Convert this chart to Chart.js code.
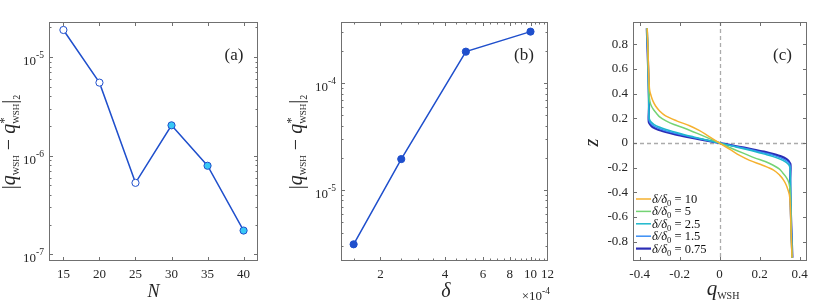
<!DOCTYPE html>
<html>
<head>
<meta charset="utf-8">
<script src="https://cdn.jsdelivr.net/npm/chart.js@4.4.0/dist/chart.umd.min.js"></script>
<style>
body { margin: 0; background: #fff; }
#wrap { position: relative; width: 830px; height: 302px; }
#wrap canvas { position: absolute; top: 0; }
</style>
</head>
<body>
<div id="wrap">
  <canvas id="ca" width="280" height="302" style="left:0px"></canvas>
  <canvas id="cb" width="280" height="302" style="left:280px"></canvas>
  <canvas id="cc" width="270" height="302" style="left:560px"></canvas>
</div>
<script>
// ---- data ----
// (a) error vs N
const nValues = [15, 20, 25, 30, 35, 40];
const errN = [1.88e-5, 5.5e-6, 5.3e-7, 2.03e-6, 7.9e-7, 1.74e-7];
const filledN = [false, false, false, true, true, true];
const nTicks = [15, 20, 25, 30, 35, 40];

// (b) error vs delta (units of 1e-4)
const deltaValues = [1.5, 2.5, 5, 10];
const errDelta = [3.1e-6, 1.95e-5, 1.98e-4, 3.05e-4];
const deltaTicks = [2, 4, 6, 8, 10, 12];

// (c) profiles q_WSH(z)
const ratioLabels = ['10', '5', '2.5', '1.5', '0.75'];
const z10 = [0.93, 0.7, 0.5, 0.42, 0.38, 0.34, 0.3, 0.26, 0.22, 0.18, 0.14, 0.1, 0.06, 0.03, 0,
  -0.03, -0.06, -0.1, -0.14, -0.18, -0.22, -0.26, -0.3, -0.34, -0.38, -0.42, -0.5, -0.7, -0.93];
const q10 = [-0.362, -0.357, -0.353, -0.349, -0.342, -0.333, -0.32, -0.3, -0.27, -0.215, -0.15, -0.1, -0.06, -0.03, 0,
  0.03, 0.06, 0.1, 0.15, 0.215, 0.27, 0.3, 0.32, 0.333, 0.342, 0.349, 0.353, 0.357, 0.362];
const z5 = [0.93, 0.6, 0.4, 0.34, 0.3, 0.27, 0.24, 0.21, 0.18, 0.15, 0.12, 0.09, 0.06, 0.03, 0,
  -0.03, -0.06, -0.09, -0.12, -0.15, -0.18, -0.21, -0.24, -0.27, -0.3, -0.34, -0.4, -0.6, -0.93];
const q5 = [-0.362, -0.356, -0.353, -0.349, -0.341, -0.33, -0.315, -0.298, -0.268, -0.228, -0.175, -0.13, -0.085, -0.042, 0,
  0.042, 0.085, 0.13, 0.175, 0.228, 0.268, 0.298, 0.315, 0.33, 0.341, 0.349, 0.353, 0.356, 0.362];
const z25 = [0.93, 0.6, 0.3, 0.22, 0.19, 0.17, 0.15, 0.13, 0.11, 0.09, 0.07, 0.05, 0.025, 0,
  -0.025, -0.05, -0.07, -0.09, -0.11, -0.13, -0.15, -0.17, -0.19, -0.22, -0.3, -0.6, -0.93];
const q25 = [-0.363, -0.357, -0.354, -0.353, -0.35, -0.342, -0.327, -0.302, -0.268, -0.225, -0.18, -0.13, -0.065, 0,
  0.065, 0.13, 0.18, 0.225, 0.268, 0.302, 0.327, 0.342, 0.35, 0.353, 0.354, 0.357, 0.363];
const z15 = [0.93, 0.6, 0.3, 0.2, 0.18, 0.16, 0.14, 0.12, 0.1, 0.08, 0.06, 0.04, 0.02, 0,
  -0.02, -0.04, -0.06, -0.08, -0.1, -0.12, -0.14, -0.16, -0.18, -0.2, -0.3, -0.6, -0.93];
const q15 = [-0.363, -0.357, -0.354, -0.354, -0.352, -0.345, -0.33, -0.305, -0.27, -0.222, -0.172, -0.117, -0.058, 0,
  0.058, 0.117, 0.172, 0.222, 0.27, 0.305, 0.33, 0.345, 0.352, 0.354, 0.354, 0.357, 0.363];
const z075 = [0.93, 0.6, 0.3, 0.2, 0.17, 0.15, 0.13, 0.11, 0.09, 0.07, 0.05, 0.03, 0.015, 0,
  -0.015, -0.03, -0.05, -0.07, -0.09, -0.11, -0.13, -0.15, -0.17, -0.2, -0.3, -0.6, -0.93];
const q075 = [-0.364, -0.357, -0.353, -0.355, -0.354, -0.347, -0.335, -0.31, -0.27, -0.222, -0.163, -0.098, -0.05, 0,
  0.05, 0.098, 0.163, 0.222, 0.27, 0.31, 0.335, 0.347, 0.354, 0.355, 0.353, 0.357, 0.364];
const zTicks = [-0.8, -0.6, -0.4, -0.2, 0, 0.2, 0.4, 0.6, 0.8];
const qTicks = [-0.4, -0.2, 0, 0.2, 0.4];

// ---- styles ----
const SERIF = '"Liberation Serif", "DejaVu Serif", serif';
const TICK_COLOR = '#262626';
const BOX_COLOR = '#707070';
const LINE_BLUE = '#1f4fcc';
const tickFont = { family: SERIF, size: 13 };
const curveColors = ['#f5b12f', '#74d374', '#1db8cc', '#3a8ef5', '#2b2db5'];
const curveWidths = [1.5, 1.5, 1.5, 1.5, 2.2];

// rich text: parts [{t, font, dy, stack}]
function drawRich(ctx, parts, x, y, align) {
  let w = 0;
  parts.forEach(p => {
    ctx.font = p.font;
    p.w = ctx.measureText(p.t).width;
    if (!p.stack) w += p.w;
  });
  let cx = align === 'center' ? x - w / 2 : align === 'right' ? x - w : x;
  parts.forEach(p => {
    ctx.font = p.font;
    ctx.fillText(p.t, cx, y + (p.dy || 0));
    if (!p.stack) cx += p.w;
  });
}

function errTitle(ctx, bx, cy) {
  const f = 'italic 20px ' + SERIF, r = '20px ' + SERIF, s = '9px ' + SERIF;
  ctx.save();
  ctx.translate(bx, cy);
  ctx.rotate(-Math.PI / 2);
  ctx.fillStyle = TICK_COLOR;
  drawRich(ctx, [
    { t: '|', font: r, dy: 1 },
    { t: 'q', font: f },
    { t: 'WSH', font: s, dy: 4 },
    { t: ' − ', font: r },
    { t: 'q', font: f },
    { t: '*', font: '13px ' + SERIF, dy: -7, stack: true },
    { t: 'WSH', font: s, dy: 4 },
    { t: '|', font: r, dy: 1 },
    { t: '2', font: '10px ' + SERIF, dy: 5 }
  ], 0, 0, 'center');
  ctx.restore();
}

function logTicks(min, max) {
  const out = [];
  for (let e = Math.floor(Math.log10(min)); e <= Math.ceil(Math.log10(max)); e++) {
    for (let k = 1; k <= 9; k++) {
      const v = k * Math.pow(10, e);
      if (v >= min && v <= max) out.push({ value: v, major: k === 1 });
    }
  }
  return out;
}

// box + inward ticks on all four sides
const framePlugin = {
  id: 'frame',
  afterDatasetsDraw(chart) {
    const { ctx, chartArea: a, scales } = chart;
    ctx.save();
    ctx.strokeStyle = BOX_COLOR;
    ctx.lineWidth = 1;
    const L = Math.round(a.left) + 0.5, T = Math.round(a.top) + 0.5;
    const R = Math.round(a.right) - 0.5, B = Math.round(a.bottom) - 0.5;
    ctx.strokeRect(L, T, R - L, B - T);
    ctx.beginPath();
    Object.values(scales).forEach(s => {
      s.ticks.forEach(t => {
        const len = t.major ? 3.5 : 2;
        const p = Math.round(s.getPixelForValue(t.value)) + 0.5;
        if (s.isHorizontal()) {
          if (p <= L + 1 || p >= R - 1) return;
          ctx.moveTo(p, B); ctx.lineTo(p, B - len);
          ctx.moveTo(p, T); ctx.lineTo(p, T + len);
        } else {
          if (p <= T + 1 || p >= B - 1) return;
          ctx.moveTo(L, p); ctx.lineTo(L + len, p);
          ctx.moveTo(R, p); ctx.lineTo(R - len, p);
        }
      });
    });
    ctx.stroke();
    ctx.restore();
  }
};

// 10^n labels for log y axes
const logLabels = {
  id: 'logLabels',
  afterDraw(chart) {
    const { ctx, chartArea: a } = chart;
    const s = chart.scales.y;
    ctx.save();
    ctx.fillStyle = TICK_COLOR;
    s.ticks.forEach(t => {
      if (!t.major) return;
      const p = s.getPixelForValue(t.value);
      const e = Math.round(Math.log10(t.value));
      drawRich(ctx, [
        { t: '10', font: '13px ' + SERIF },
        { t: (e < 0 ? '-' : '') + Math.abs(e), font: '9.5px ' + SERIF, dy: -7 }
      ], a.left - 5, p + 8, 'right');
    });
    ctx.restore();
  }
};

function axisOpts(extra) {
  return Object.assign({
    grid: { display: false, drawTicks: false },
    border: { display: false },
    ticks: { font: tickFont, color: TICK_COLOR, padding: 6, maxRotation: 0, autoSkip: false }
  }, extra);
}

const baseOptions = (pad) => ({
  responsive: false,
  animation: false,
  layout: { padding: pad },
  plugins: { legend: { display: false }, tooltip: { enabled: false } }
});

// ---- (a) ----
const optA = baseOptions({ top: 22, right: 22, left: 0, bottom: 0 });
optA.scales = {
  x: axisOpts({
    type: 'linear', min: 13, max: 42,
    afterBuildTicks: s => { s.ticks = nTicks.map(v => ({ value: v, major: true })); },
    afterFit: s => { s.height = 41; }
  }),
  y: axisOpts({
    type: 'logarithmic', min: 8.55e-8, max: 2.265e-5,
    afterBuildTicks: s => { s.ticks = logTicks(8.55e-8, 2.265e-5); },
    afterFit: s => { s.width = 49; },
    ticks: { display: false }
  })
};
new Chart(document.getElementById('ca'), {
  type: 'scatter',
  data: {
    datasets: [{
      data: nValues.map((n, i) => ({ x: n, y: errN[i] })),
      showLine: true,
      borderColor: LINE_BLUE,
      borderWidth: 1.5,
      pointRadius: 3.6,
      pointBorderWidth: 1,
      pointBorderColor: LINE_BLUE,
      pointBackgroundColor: filledN.map(f => f ? '#38c8f5' : '#ffffff')
    }]
  },
  options: optA,
  plugins: [framePlugin, logLabels, {
    id: 'textA',
    afterDraw(chart) {
      const ctx = chart.ctx;
      ctx.save();
      ctx.fillStyle = TICK_COLOR;
      drawRich(ctx, [{ t: '(a)', font: '17px ' + SERIF }], 234, 60, 'center');
      drawRich(ctx, [{ t: 'N', font: 'italic 18px ' + SERIF }], 153.5, 297, 'center');
      errTitle(ctx, 15, 142);
      ctx.restore();
    }
  }]
});

// ---- (b) ----
const optB = baseOptions({ top: 22, right: 10, left: 0, bottom: 0 });
optB.scales = {
  x: axisOpts({
    type: 'logarithmic', min: 1.31, max: 12,
    afterBuildTicks: s => {
      const t = [];
      for (let v = 1.5; v <= 12; v += 0.5) t.push({ value: v, major: deltaTicks.includes(v) });
      s.ticks = t;
    },
    afterFit: s => { s.height = 41; },
    ticks: {
      font: tickFont, color: TICK_COLOR, padding: 6, maxRotation: 0, autoSkip: false,
      callback: v => deltaTicks.includes(v) ? String(v) : ''
    }
  }),
  y: axisOpts({
    type: 'logarithmic', min: 2.163e-6, max: 3.754e-4,
    afterBuildTicks: s => { s.ticks = logTicks(2.163e-6, 3.754e-4); },
    afterFit: s => { s.width = 61; },
    ticks: { display: false }
  })
};
new Chart(document.getElementById('cb'), {
  type: 'scatter',
  data: {
    datasets: [{
      data: deltaValues.map((d, i) => ({ x: d, y: errDelta[i] })),
      showLine: true,
      borderColor: LINE_BLUE,
      borderWidth: 1.5,
      pointRadius: 3.6,
      pointBorderWidth: 1,
      pointBorderColor: LINE_BLUE,
      pointBackgroundColor: LINE_BLUE
    }]
  },
  options: optB,
  plugins: [framePlugin, logLabels, {
    id: 'textB',
    afterDraw(chart) {
      const ctx = chart.ctx;
      ctx.save();
      ctx.fillStyle = TICK_COLOR;
      drawRich(ctx, [{ t: '(b)', font: '17px ' + SERIF }], 244, 60, 'center');
      drawRich(ctx, [{ t: 'δ', font: 'italic 20px ' + SERIF }], 166, 297, 'center');
      drawRich(ctx, [
        { t: '×10', font: '13px ' + SERIF },
        { t: '-4', font: '9.5px ' + SERIF, dy: -6 }
      ], 270, 300, 'right');
      errTitle(ctx, 22, 142);
      ctx.restore();
    }
  }]
});

// ---- (c) ----
const curves = [[z10, q10], [z5, q5], [z25, q25], [z15, q15], [z075, q075]];
const optC = baseOptions({ top: 22, right: 23, left: 0, bottom: 0 });
optC.indexAxis = 'y';
optC.scales = {
  x: axisOpts({
    type: 'linear', min: -0.433, max: 0.437,
    afterBuildTicks: s => { s.ticks = qTicks.map(v => ({ value: v, major: true })); },
    afterFit: s => { s.height = 41; },
    ticks: { font: tickFont, color: TICK_COLOR, padding: 6, maxRotation: 0, autoSkip: false, callback: v => String(v) }
  }),
  y: axisOpts({
    type: 'linear', min: -0.956, max: 0.981,
    afterBuildTicks: s => { s.ticks = zTicks.map(v => ({ value: v, major: true })); },
    afterFit: s => { s.width = 73; },
    ticks: { font: tickFont, color: TICK_COLOR, padding: 5, autoSkip: false, callback: v => String(v) }
  })
};
new Chart(document.getElementById('cc'), {
  type: 'scatter',
  data: {
    datasets: curves.map((c, k) => ({
      label: ratioLabels[k],
      data: c[0].map((z, i) => ({ x: c[1][i], y: z })),
      showLine: true,
      pointRadius: 0,
      borderColor: curveColors[k],
      borderWidth: curveWidths[k],
      indexAxis: 'y',
      cubicInterpolationMode: 'monotone'
    }))
  },
  options: optC,
  plugins: [{
    id: 'zeroLines',
    beforeDatasetsDraw(chart) {
      const { ctx, chartArea: a, scales } = chart;
      const x0 = Math.round(scales.x.getPixelForValue(0)) + 0.5;
      const y0 = Math.round(scales.y.getPixelForValue(0)) + 0.5;
      ctx.save();
      ctx.strokeStyle = '#ababab';
      ctx.lineWidth = 1.3;
      ctx.setLineDash([4, 3]);
      ctx.beginPath();
      ctx.moveTo(x0, a.top); ctx.lineTo(x0, a.bottom);
      ctx.moveTo(a.left, y0); ctx.lineTo(a.right, y0);
      ctx.stroke();
      ctx.restore();
    }
  }, framePlugin, {
    id: 'textC',
    afterDraw(chart) {
      const { ctx, chartArea: a } = chart;
      ctx.save();
      ctx.fillStyle = TICK_COLOR;
      drawRich(ctx, [{ t: '(c)', font: '17px ' + SERIF }], 222.5, 60, 'center');
      drawRich(ctx, [
        { t: 'q', font: 'italic 21px ' + SERIF },
        { t: 'WSH', font: '10px ' + SERIF, dy: 4 }
      ], 163, 295, 'center');
      ctx.save();
      ctx.translate(38, 142.5);
      ctx.rotate(-Math.PI / 2);
      drawRich(ctx, [{ t: 'z', font: 'italic 20px ' + SERIF }], 0, 0, 'center');
      ctx.restore();
      // legend
      ratioLabels.forEach((lab, i) => {
        const y = 199 + i * 12.4;
        ctx.strokeStyle = curveColors[i];
        ctx.lineWidth = curveWidths[i];
        ctx.beginPath();
        ctx.moveTo(a.left + 3, y); ctx.lineTo(a.left + 18, y);
        ctx.stroke();
        ctx.fillStyle = '#111';
        drawRich(ctx, [
          { t: 'δ/δ', font: 'italic 12.5px ' + SERIF },
          { t: '0', font: '8.5px ' + SERIF, dy: 3 },
          { t: ' = ' + lab, font: '12.5px ' + SERIF }
        ], a.left + 19, y + 4, 'left');
      });
      ctx.restore();
    }
  }]
});
</script>
</body>
</html>
